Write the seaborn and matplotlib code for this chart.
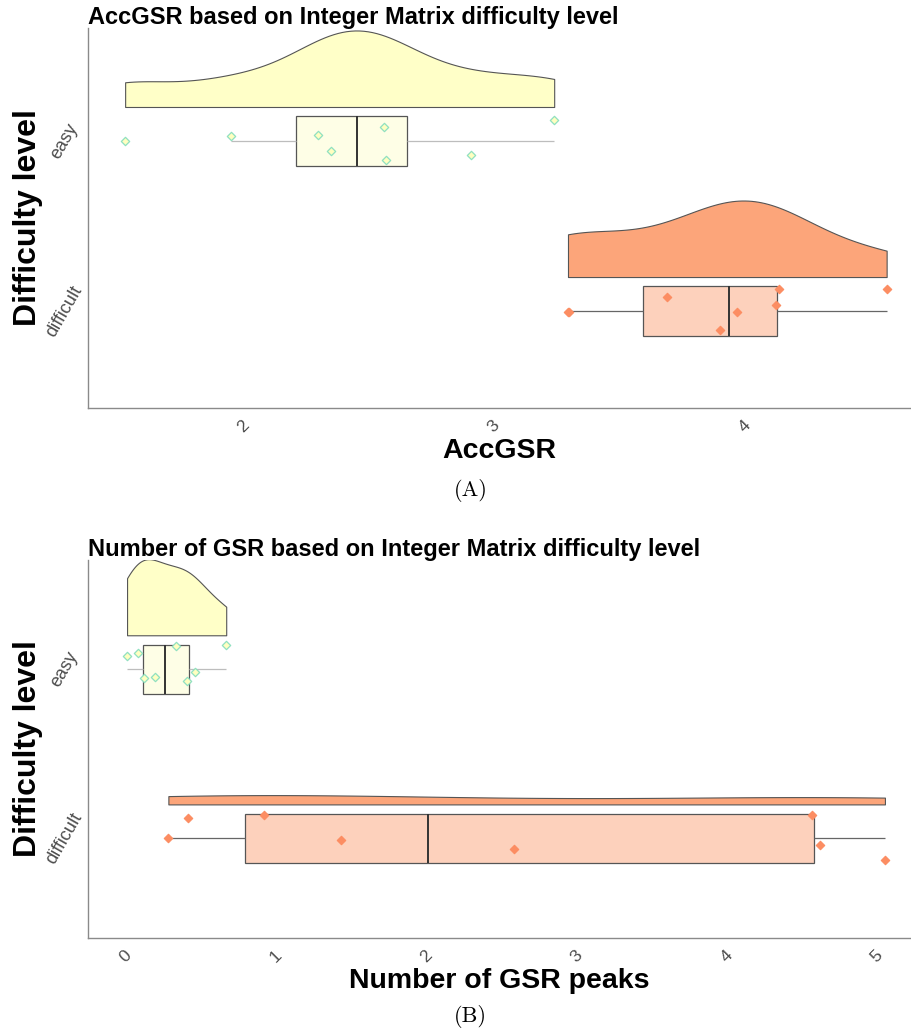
import numpy as np
import pandas as pd
import seaborn as sns
import matplotlib.pyplot as plt
from matplotlib.transforms import Affine2D

# values (x value + vertical jitter in category units)
levels = ['easy', 'difficult']

acc_easy = [1.53, 1.95, 2.30, 2.35, 2.56, 2.57, 2.91, 3.24]
acc_easy_jit = [0.0, -0.03, -0.035, 0.06, -0.08, 0.11, 0.08, -0.125]
acc_diff = [3.295, 3.30, 3.69, 3.90, 3.97, 4.135, 4.125, 4.565]
acc_diff_jit = [0.005, 0.005, -0.08, 0.11, 0.005, -0.13, -0.035, -0.13]

peaks_easy = [0.01, 0.085, 0.335, 0.67, 0.125, 0.195, 0.465, 0.41]
peaks_easy_jit = [-0.08, -0.095, -0.135, -0.14, 0.05, 0.045, 0.015, 0.07]
peaks_diff = [0.285, 0.415, 0.92, 1.435, 2.585, 4.57, 4.625, 5.055]
peaks_diff_jit = [0.0, -0.12, -0.135, 0.01, 0.065, -0.135, 0.04, 0.13]

x_ticks_a = [2, 3, 4]
x_ticks_b = [0, 1, 2, 3, 4, 5]

violin_cols = {'easy': '#FFFFC8', 'difficult': '#FCA57A'}
box_cols = {'easy': '#FEFEE6', 'difficult': '#FDD1BC'}
point_face = {'easy': '#FFFFC0', 'difficult': '#FC8D62'}
point_edge = {'easy': '#8FE0C0', 'difficult': '#FC8D62'}
whisker_cols = {'easy': '#BDBDBD', 'difficult': '#666666'}

sns.set_style('white')
plt.rcParams['font.family'] = ['Liberation Sans', 'DejaVu Sans']
plt.rcParams['text.color'] = 'black'
plt.rcParams['axes.labelcolor'] = 'black'


def raincloud(ax, values, jitter, level, bw, vheight):
    df = pd.DataFrame({'value': values, 'level': level})
    # half violin (flat side at pos + width/2), moved so its base sits 0.2 above the box centre
    n0 = len(ax.collections)
    sns.violinplot(data=df, x='value', y='level', order=levels, split=True,
                   inner=None, cut=0, bw_adjust=bw, density_norm='width',
                   width=vheight, color=violin_cols[level], linecolor='#555555',
                   linewidth=0.8, saturation=1, ax=ax)
    shift = -(0.2 + vheight / 2)
    for coll in ax.collections[n0:]:
        coll.set_transform(Affine2D().translate(0, shift) + ax.transData)
    sns.boxplot(data=df, x='value', y='level', order=levels, width=0.29,
                showfliers=False, showcaps=False, color=box_cols[level],
                saturation=1, linecolor='#555555', linewidth=0.9,
                whiskerprops=dict(color=whisker_cols[level]),
                medianprops=dict(color='#333333', linewidth=1.4), ax=ax)
    pos = levels.index(level)
    ax.scatter(values, np.array(jitter) + pos, marker='D', s=18,
               facecolor=point_face[level], edgecolor=point_edge[level],
               linewidth=0.9, zorder=5)


def style(ax, title, xlabel, xlim, ylim, xticks):
    ax.set_xlim(*xlim)
    ax.set_ylim(*ylim)
    ax.set_title(title, loc='left', fontweight='bold', fontsize=17, pad=3, color='black')
    ax.set_xlabel(xlabel, fontweight='bold', fontsize=20.5, labelpad=2)
    ax.set_ylabel('Difficulty level', fontweight='bold', fontsize=23, labelpad=0)
    ax.set_xticks(xticks)
    ax.set_xticklabels([str(t) for t in xticks], rotation=45, ha='center',
                       va='center', color='#4D4D4D', fontsize=12.5)
    ax.set_yticks([0, 1])
    ax.set_yticklabels(levels, rotation=60, ha='center', va='center',
                       color='#4D4D4D', fontsize=13)
    ax.tick_params(axis='x', length=3, pad=10, color='#888888')
    ax.tick_params(axis='y', length=3, pad=14, color='#888888')
    for side in ['top', 'right']:
        ax.spines[side].set_visible(False)
    for side in ['left', 'bottom']:
        ax.spines[side].set_color('#8A8A8A')
        ax.spines[side].set_linewidth(1.0)


fig = plt.figure(figsize=(9.12, 10.30), dpi=100)
ax_a = fig.add_axes([0.0965, 0.6039, 0.901, 0.369])
ax_b = fig.add_axes([0.0965, 0.0893, 0.901, 0.367])

raincloud(ax_a, acc_easy, acc_easy_jit, 'easy', 0.56, 0.45)
raincloud(ax_a, acc_diff, acc_diff_jit, 'difficult', 0.82, 0.45)
style(ax_a, 'AccGSR based on Integer Matrix difficulty level', 'AccGSR',
      (1.382, 4.657), (1.57, -0.665), x_ticks_a)

raincloud(ax_b, peaks_easy, peaks_easy_jit, 'easy', 0.9, 0.45)
raincloud(ax_b, peaks_diff, peaks_diff_jit, 'difficult', 0.9, 0.055)
style(ax_b, 'Number of GSR based on Integer Matrix difficulty level',
      'Number of GSR peaks', (-0.25, 5.22), (1.59, -0.645), x_ticks_b)

fig.text(0.516, 0.524, '(A)', ha='center', va='center', family='cmr10', fontsize=16)
fig.text(0.516, 0.013, '(B)', ha='center', va='center', family='cmr10', fontsize=16)

fig.savefig('out.png', dpi=100)
